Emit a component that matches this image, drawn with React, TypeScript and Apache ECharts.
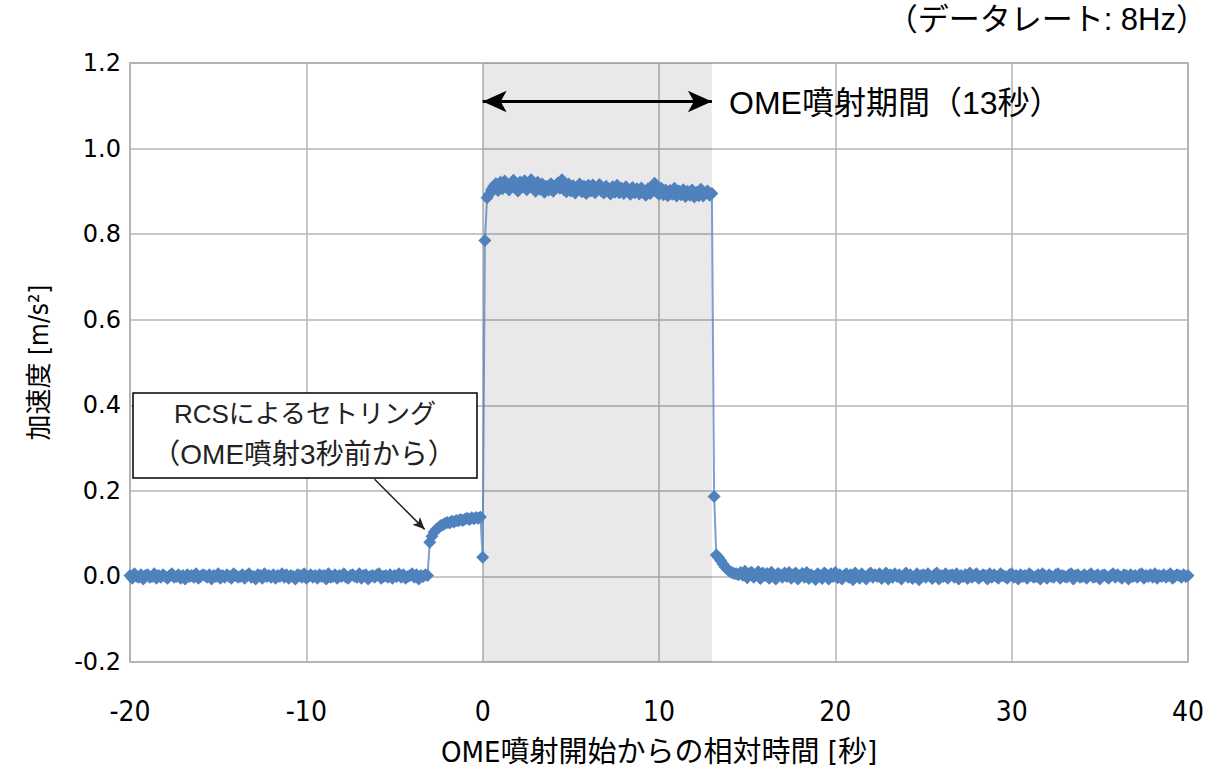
import React, { useEffect, useRef } from "react";
import * as echarts from "echarts";

// Sampling: 8 Hz, from t = -20 s to t = 40 s (481 samples)
const START_TIME = -20;
const SAMPLE_RATE_HZ = 8;

// t = -20.000 .. -3.125 s : before RCS settling (~0)
const preRcs = [
  0.002, -0.004, 0.006, 0.0, -0.002, 0.004, -0.006, 0.002, 0.004, -0.002, 0.0, 0.006, -0.004, 0.002, -0.002, 0.004, 0.0,
  -0.004, 0.002, 0.006, -0.002, 0.0, 0.004, -0.004, 0.002, -0.006, 0.004, 0.0, 0.002, -0.002, 0.006, -0.004, 0.0, 0.004,
  0.002, -0.002, 0.004, -0.006, 0.002, 0.0, 0.006, -0.004, 0.002, -0.002, 0.004, 0.0, -0.004, 0.006, 0.002, -0.002, 0.0,
  0.004, -0.004, 0.002, 0.006, -0.002, 0.0, -0.006, 0.004, 0.002, -0.004, 0.006, 0.0, 0.002, -0.002, 0.004, -0.004, 0.002,
  0.0, 0.006, -0.002, 0.004, -0.004, 0.002, 0.0, -0.006, 0.004, 0.002, -0.002, 0.006, -0.004, 0.0, 0.004, -0.002, 0.002,
  -0.004, 0.004, 0.0, 0.002, -0.006, 0.006, -0.002, 0.0, 0.004, -0.004, 0.002, 0.0, 0.006, -0.002, -0.004, 0.002, 0.004,
  0.0, -0.002, 0.006, -0.004, 0.002, 0.004, -0.006, 0.0, 0.002, -0.002, 0.004, 0.006, -0.004, 0.0, 0.002, -0.002, 0.004,
  -0.004, 0.002, 0.0, 0.006, -0.002, 0.004, -0.004, 0.0, 0.002, 0.006, -0.002, 0.004, -0.006, 0.002, 0.0, 0.004, 0.002,
];

// t = -3.000 .. -0.125 s : RCS settling
const rcsSettling = [
  0.08, 0.094, 0.104, 0.11, 0.114, 0.119, 0.121, 0.124, 0.126, 0.125, 0.129, 0.127,
  0.131, 0.13, 0.133, 0.131, 0.134, 0.136, 0.133, 0.137, 0.135, 0.138, 0.136, 0.139,
];

// t = 0.000 .. 13.000 s : OME firing
const omeFiring = [
  0.045, 0.785, 0.885,
  0.893, 0.904, 0.912, 0.918, 0.902, 0.921, 0.906, 0.924, 0.91, 0.903,
  0.919, 0.926, 0.908, 0.901, 0.922, 0.911, 0.925, 0.904, 0.917, 0.927,
  0.909, 0.9, 0.921, 0.905, 0.917, 0.898, 0.912, 0.903, 0.918, 0.9,
  0.908, 0.919, 0.907, 0.927, 0.903, 0.899, 0.917, 0.901, 0.913, 0.896,
  0.909, 0.917, 0.899, 0.912, 0.895, 0.914, 0.901, 0.915, 0.897, 0.908,
  0.916, 0.9, 0.896, 0.912, 0.902, 0.894, 0.911, 0.898, 0.914, 0.897,
  0.907, 0.895, 0.911, 0.899, 0.893, 0.909, 0.897, 0.906, 0.894, 0.908,
  0.897, 0.891, 0.906, 0.895, 0.909, 0.919, 0.898, 0.893, 0.907, 0.892,
  0.903, 0.89, 0.902, 0.893, 0.907, 0.889, 0.901, 0.892, 0.904, 0.888,
  0.9, 0.891, 0.903, 0.887, 0.898, 0.89, 0.905, 0.889, 0.896, 0.901,
  0.891, 0.895,
];

// t = 13.125 .. 40.000 s : after OME cut-off
const postOme = [
  0.187, 0.05, 0.044, 0.037, 0.029, 0.022, 0.017, 0.012, 0.009, 0.007, 0.006, 0.004,
  0.009, 0.003, 0.012, -0.003, 0.007, 0.01, -0.002, 0.005, 0.011, -0.005, 0.008, 0.002,
  0.007, -0.004, 0.01, 0.001, -0.006, 0.007, 0.004, -0.002, 0.008, 0.0, 0.009, -0.004,
  0.004, 0.008, -0.006, 0.002, 0.007, -0.002, 0.009, -0.005, 0.004, 0.0, -0.007, 0.006,
  0.002, -0.005, 0.008, 0.004, -0.006, 0.006, 0.0, 0.009, -0.003, 0.004, -0.006, 0.002,
  0.006, -0.002, 0.004, -0.008, 0.008, 0.002, -0.004, 0.006, 0.0, -0.006, 0.004, 0.008,
  -0.002, 0.004, 0.0, 0.006, -0.005, 0.002, 0.008, -0.006, 0.004, -0.002, 0.006, 0.0,
  0.004, -0.006, 0.002, 0.008, -0.002, 0.004, -0.005, 0.0, 0.006, -0.008, 0.002, 0.004,
  -0.002, 0.006, 0.0, -0.005, 0.004, 0.008, -0.006, 0.002, 0.0, 0.006, -0.004, 0.002,
  0.004, -0.002, 0.006, -0.006, 0.002, 0.0, 0.004, -0.005, 0.008, -0.002, 0.002, 0.006,
  -0.004, 0.0, 0.004, 0.002, -0.006, 0.006, -0.002, 0.004, 0.0, -0.004, 0.006, 0.002,
  0.0, -0.004, 0.004, 0.006, -0.002, 0.002, -0.006, 0.004, 0.0, 0.002, -0.004, 0.006,
  0.002, -0.002, 0.0, 0.004, -0.006, 0.006, 0.002, -0.004, 0.004, 0.0, -0.002, 0.004,
  0.006, -0.004, 0.002, 0.0, -0.002, 0.004, 0.006, -0.006, 0.002, 0.004, -0.002, 0.0,
  0.004, -0.004, 0.002, 0.006, -0.002, 0.0, 0.004, -0.006, 0.002, 0.004, 0.0, -0.004,
  0.002, 0.006, -0.002, 0.004, 0.0, -0.004, 0.004, 0.002, -0.006, 0.004, 0.0, 0.002,
  -0.002, 0.004, 0.006, -0.004, 0.002, 0.0, 0.004, -0.002, 0.006, -0.004, 0.002, 0.0,
  0.004, -0.002, 0.002, 0.006, -0.004, 0.0, 0.004, 0.002, -0.002, 0.004, 0.0, 0.002,
];

const firingPeriod = [0, 13]; // seconds
const firingLabel = "OME噴射期間（13秒）";
const rcsNoteLines = ["RCSによるセトリング", "（OME噴射3秒前から）"];
const rcsArrowFrom = [-6.13, 0.227];
const rcsArrowTo = [-3.29, 0.11];
const firingArrowLevel = 1.11;
const rateNote = "（データレート: 8Hz）";
const xName = "OME噴射開始からの相対時間 [秒]";
const yName = "加速度 [m/s²]";

const BLUE = "#4F81BD";
const JP = "'Liberation Sans','Noto Sans CJK JP',sans-serif";
const NARROW = "'Liberation Sans Narrow','DejaVu Sans Condensed','Noto Sans CJK JP',sans-serif";

export default function App() {
  const ref = useRef<HTMLDivElement>(null);
  useEffect(() => {
    if (!ref.current) return;
    const chart = echarts.init(ref.current, undefined, { renderer: "svg" });
    const values = [...preRcs, ...rcsSettling, ...omeFiring, ...postOme];
    const data = values.map((v, i) => [START_TIME + i / SAMPLE_RATE_HZ, v]);

    chart.setOption({
      animation: false,
      backgroundColor: "#fff",
      grid: { left: 130, right: 21, top: 63, bottom: 114, show: true, borderColor: "#9C9C9C", borderWidth: 1.5 },
      xAxis: {
        type: "value",
        min: -20,
        max: 40,
        interval: 10,
        name: xName,
        nameLocation: "middle",
        nameGap: 75,
        nameTextStyle: { fontFamily: NARROW, fontSize: 29, color: "#000" },
        axisLine: { show: false },
        axisTick: { show: false },
        axisLabel: { margin: 35, fontFamily: NARROW, fontSize: 28, color: "#000" },
        splitLine: { lineStyle: { color: "#B4B4B4", width: 1.5 } },
      },
      yAxis: {
        type: "value",
        min: -0.2,
        max: 1.2,
        interval: 0.2,
        name: yName,
        nameLocation: "middle",
        nameGap: 78,
        nameTextStyle: { fontFamily: NARROW, fontSize: 26, color: "#000" },
        axisLine: { show: false },
        axisTick: { show: false },
        axisLabel: {
          margin: 9,
          fontFamily: "'DejaVu Sans',sans-serif",
          fontSize: 24,
          color: "#000",
          formatter: (v: number) => v.toFixed(1),
        },
        splitLine: { lineStyle: { color: "#B4B4B4", width: 1.5 } },
      },
      series: [
        {
          type: "line",
          data,
          symbol: "diamond",
          symbolSize: 13,
          showAllSymbol: true,
          itemStyle: { color: BLUE },
          lineStyle: { color: BLUE, width: 2, opacity: 0.75 },
          z: 5,
          markArea: {
            silent: true,
            itemStyle: { color: "rgba(0,0,0,0.085)" },
            data: [[{ xAxis: firingPeriod[0] }, { xAxis: firingPeriod[1] }]],
          },
        },
        {
          type: "line",
          data: [],
          markLine: {
            silent: true,
            symbol: ["arrow", "arrow"],
            symbolSize: [16, 24],
            label: { show: false },
            lineStyle: { color: "#000", width: 3, type: "solid" },
            data: [[{ coord: [firingPeriod[0], firingArrowLevel] }, { coord: [firingPeriod[1], firingArrowLevel] }]],
          },
        },
        {
          type: "line",
          data: [],
          markLine: {
            silent: true,
            symbol: ["none", "arrow"],
            symbolSize: [8, 12],
            label: { show: false },
            lineStyle: { color: "#222", width: 1.5, type: "solid" },
            data: [[{ coord: rcsArrowFrom }, { coord: rcsArrowTo }]],
          },
        },
      ],
      graphic: [
        {
          type: "text",
          right: 2,
          top: 4,
          z: 100,
          style: { text: rateNote, font: `31px ${JP}`, fill: "#000" },
        },
        {
          type: "text",
          x: 729,
          y: 103,
          z: 100,
          style: { text: firingLabel, font: `32px ${JP}`, fill: "#000", textVerticalAlign: "middle" },
        },
        {
          type: "rect",
          z: 100,
          shape: { x: 133, y: 393, width: 344, height: 85 },
          style: { fill: "#fff", stroke: "#000", lineWidth: 1.5 },
        },
        {
          type: "text",
          x: 305,
          y: 414,
          z: 101,
          style: { text: rcsNoteLines[0], font: `26px ${JP}`, fill: "#222", textAlign: "center", textVerticalAlign: "middle" },
        },
        {
          type: "text",
          x: 304,
          y: 454,
          z: 101,
          style: { text: rcsNoteLines[1], font: `28px ${JP}`, fill: "#222", textAlign: "center", textVerticalAlign: "middle" },
        },
      ],
    });
    return () => chart.dispose();
  }, []);
  return <div ref={ref} style={{ position: "fixed", left: 0, top: 0, width: 1209, height: 776 }} />;
}
